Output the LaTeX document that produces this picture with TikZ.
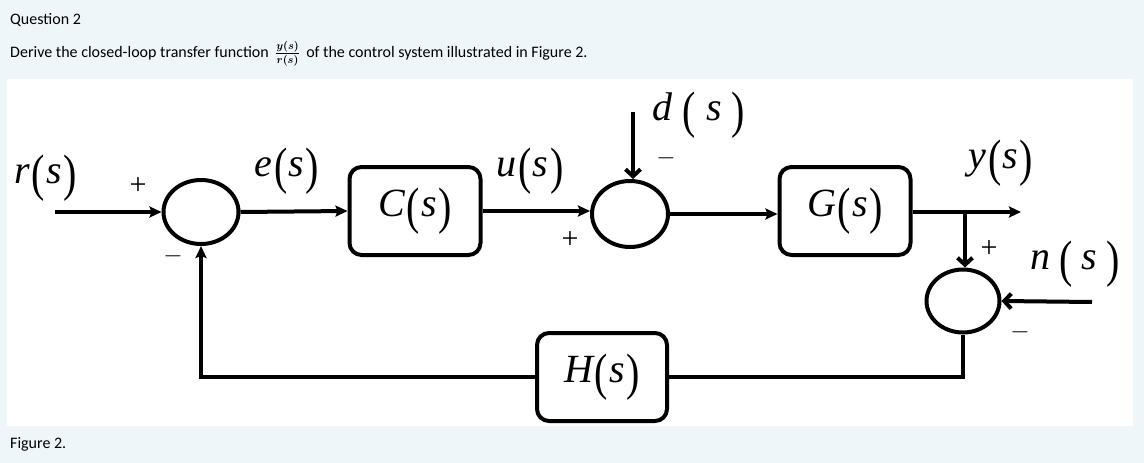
\documentclass[tikz,border=0pt]{standalone}
\usepackage{fontspec}
\usepackage{graphicx}
\setmainfont{Carlito}
\newfontfamily\tnr{Liberation Serif}
\usepackage{tikz}
\usetikzlibrary{arrows.meta,positioning,shapes.geometric,calc}

\definecolor{pagebg}{HTML}{EEF6FA}

% signal label: letter, stretched parentheses, s
\newcommand{\sig}[2][1.5pt]{{\tnr\fontsize{40}{42}\selectfont\itshape #2\hspace{#1}\raisebox{-0.17em}{\upshape\scalebox{1}[1.28]{(}}\hspace{#1}s\hspace{#1}\raisebox{-0.17em}{\upshape\scalebox{1}[1.28]{)}}}}
\newcommand{\sgn}[1]{{\tnr\fontsize{30}{32}\selectfont #1}}

\begin{document}
\begin{tikzpicture}[
    x=1pt, y=-1pt,
    block/.style={rectangle, draw, line width=4pt, rounded corners=12pt, minimum width=131pt, minimum height=88pt, inner sep=0pt},
    sum/.style={ellipse, draw, line width=4pt, minimum width=75pt, minimum height=64pt, inner sep=0pt},
    wire/.style={line width=4pt},
    arrow/.style={wire, -{Stealth[length=12pt,width=11pt,inset=2pt]}},
    barb/.style={wire, -{Straight Barb[length=7pt,width=15pt,line width=4pt]}},
    txt/.style={anchor=west, font=\fontsize{16}{18}\selectfont, inner sep=0pt}
]
    \useasboundingbox (0,0) rectangle (1144,463);
    \fill[pagebg] (0,0) rectangle (1144,463);
    \fill[white] (7,79) rectangle (1133,426);

    % question text
    \node[txt] (title) at (10,20) {Question 2};
    \node[txt] (task) at (10,54)
        {Derive the closed-loop transfer function\, {\boldmath$\frac{y(s)}{r(s)}$}\, of the control system illustrated in Figure 2.};
    \node[txt] (caption) at (10,444) {Figure 2.};

    % blocks and summing points
    \node[sum] (sum1) at (201,212) {};
    \node[block] (ctrl) at (415,211) {\sig{C}};
    \node[sum, minimum width=76pt, minimum height=66pt] (sum2) at (630,214) {};
    \node[block] (plant) at (845,211) {\sig{G}};
    \node[sum, minimum width=73pt, minimum height=63pt] (sum3) at (963,301) {};
    \node[block, minimum width=130pt] (fb) at (602,377) {\sig{H}};

    \coordinate (rin) at (55,212);
    \coordinate (yout) at (1021,212);
    \coordinate (branch) at (965,212);
    \coordinate (din) at (633,112);
    \coordinate (nin) at (1092,302);

    % forward path
    \draw[arrow] (rin) -- (sum1.west);
    \draw[arrow] (sum1.east) -- (ctrl.west);
    \draw[arrow] (ctrl.east) -- (ctrl.east -| sum2.west);
    \draw[arrow] (sum2.east) -- (sum2.east -| plant.west);
    \draw[arrow] (plant.east |- yout) -- (yout);
    \draw[barb] (din) -- (din |- sum2.north);

    % measurement and feedback
    \draw[barb] (branch) -- (branch |- sum3.north);
    \draw[barb] (nin) -- (sum3.east);
    \draw[wire] (sum3.south) |- (fb.east);
    \draw[arrow] (fb.west) -| (sum1.south);

    % labels
    \node (rlab) at (46,178) {\sig{r}};
    \node (elab) at (287,171) {\sig{e}};
    \node (ulab) at (530,171) {\sig{u}};
    \node (dlab) at (699,115) {\sig[10pt]{d}};
    \node (ylab) at (1001,163) {\sig{y}};
    \node (nlab) at (1075,264) {\sig[9pt]{n}};

    \node (p1) at (138,186) {\sgn{+}};
    \node (m1) at (173,256) {\sgn{$-$}};
    \node (p2) at (570,240) {\sgn{+}};
    \node (m2) at (666,158) {\sgn{$-$}};
    \node (p3) at (989,249) {\sgn{+}};
    \node (m3) at (1020,332) {\sgn{$-$}};
\end{tikzpicture}
\end{document}
